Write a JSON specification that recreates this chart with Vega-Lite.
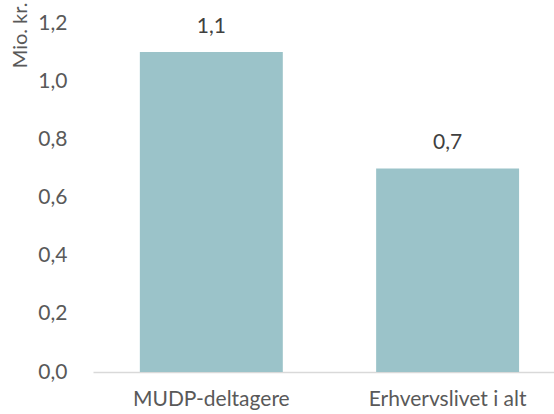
{
  "$schema": "https://vega.github.io/schema/vega-lite/v6.json",
  "width": 461,
  "height": 349,
  "autosize": {"type": "none"},
  "padding": {"left": 93, "top": 23, "right": 0, "bottom": 42},
  "background": "white",
  "config": {
    "view": {"stroke": null},
    "font": "Lato",
    "locale": {"number": {"decimal": ",", "thousands": ".", "grouping": [3], "currency": ["", " kr."]}}
  },
  "data": {"values": [
    {"kategori": "MUDP-deltagere", "value": 1.1},
    {"kategori": "Erhvervslivet i alt", "value": 0.7}
  ]},
  "encoding": {
    "x": {
      "field": "kategori", "type": "nominal", "sort": null,
      "scale": {"paddingInner": 0.395, "paddingOuter": 0.173, "align": 0.573},
      "axis": {
        "title": null, "labelAngle": 0, "ticks": false,
        "domainColor": "#D9D9D9", "domainWidth": 1.5,
        "labelFontSize": 21, "labelColor": "#595959", "labelPadding": 16,
        "labelFont": "Lato"
      }
    },
    "y": {
      "field": "value", "type": "quantitative",
      "scale": {"domain": [0, 1.2], "nice": false},
      "axis": {
        "title": "Mio. kr.", "values": [0, 0.2, 0.4, 0.6, 0.8, 1.0, 1.2],
        "format": ".1f", "domain": false, "ticks": false, "grid": false,
        "labelFontSize": 21, "labelColor": "#595959", "labelPadding": 26,
        "titleFontSize": 20, "titleFont": "Lato", "titleFontWeight": "normal", "titleColor": "#595959",
        "titleX": -73, "titleY": -21, "titleAlign": "right", "titleBaseline": "middle", "titleAngle": -90
      }
    }
  },
  "layer": [
    {"mark": {"type": "bar", "color": "#9BC3C9"}},
    {
      "mark": {"type": "text", "dy": -19, "baseline": "alphabetic", "fontSize": 21, "font": "Lato", "color": "#404040"},
      "encoding": {"text": {"field": "value", "type": "quantitative", "format": ".1f"}}
    }
  ]
}
